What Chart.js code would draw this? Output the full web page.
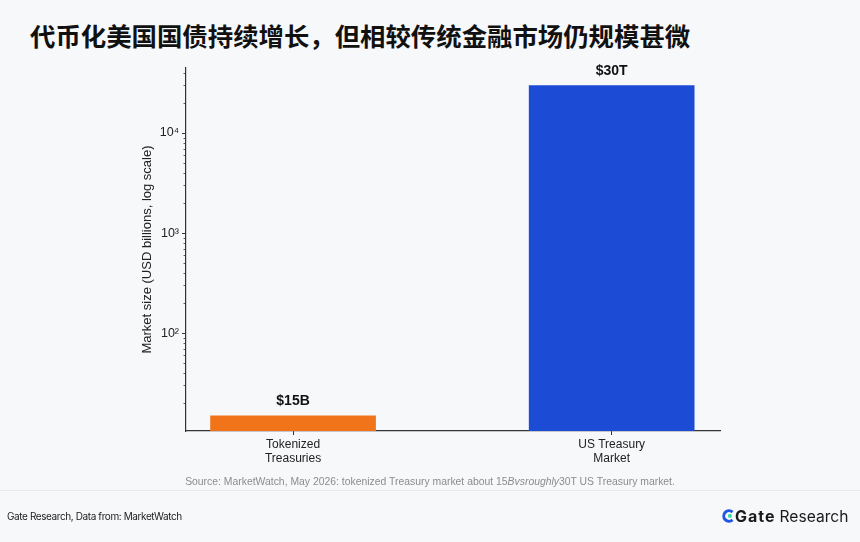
<!DOCTYPE html>
<html>
<head>
<meta charset="utf-8">
<script src="https://cdn.jsdelivr.net/npm/chart.js@4"></script>
<style>
  html, body { margin: 0; padding: 0; }
  body { width: 860px; height: 542px; background: #f7f8fa; position: relative; overflow: hidden; }
  #chart { position: absolute; left: 0; top: 0; }
  .title { position: absolute; left: 30px; top: 20px; font: 700 25.4px "Noto Sans CJK SC", sans-serif; line-height: 30px; color: #111; white-space: nowrap; }
  .source { position: absolute; left: 0; top: 476px; width: 860px; text-align: center; font: 10.4px "Liberation Sans", Arial, sans-serif; color: #8c8c8c; }
  .sep { position: absolute; left: 0; top: 490px; width: 860px; height: 1px; background: #e8eaee; }
  .foot { position: absolute; left: 7px; top: 510px; font: 10px Inter, sans-serif; color: #222; letter-spacing: -0.4px; }
  .logo { position: absolute; left: 722px; top: 506px; font: 15.6px Inter, sans-serif; color: #1a1a1a; display: flex; align-items: center; white-space: nowrap; }
  .logo b { font-weight: 700; font-size: 16px; margin-left: 1px; margin-right: 4px; letter-spacing: 1px; }
</style>
</head>
<body>
<div class="title">代币化美国国债持续增长，但相较传统金融市场仍规模甚微</div>
<canvas id="chart" width="860" height="542"></canvas>
<div class="source">Source: MarketWatch, May 2026: tokenized Treasury market about 15<i>Bvsroughly</i>30T US Treasury market.</div>
<div class="sep"></div>
<div class="foot">Gate Research, Data from: MarketWatch</div>
<div class="logo">
  <svg width="12" height="14" viewBox="0 0 12 14">
    <path d="M10.5 3.2 A5.2 5.2 0 1 0 10.5 10.8" fill="none" stroke="#2354e6" stroke-width="3"/>
    <rect x="6.2" y="5.2" width="3.4" height="3.4" fill="#27d99b"/>
  </svg>
  <b>Gate</b>Research
</div>
<script>
const categories = [['Tokenized', 'Treasuries'], ['US Treasury', 'Market']];
const marketSizes = [15, 30000]; // USD billions
const valueLabels = ['$15B', '$30T'];
const barColors = ['#f2741a', '#1c4bd6'];
const yMajorTicks = [100, 1000, 10000];
const yMinorTicks = [20, 30, 40, 50, 60, 70, 80, 90, 200, 300, 400, 500, 600, 700, 800, 900,
  2000, 3000, 4000, 5000, 6000, 7000, 8000, 9000, 20000, 30000, 40000];

const axisColor = '#333333';
const textColor = '#222222';
const supDigits = { 2: '\u00b2', 3: '\u00b3', 4: '\u2074' };

// bold value labels above each bar
const valueLabelPlugin = {
  id: 'valueLabels',
  afterDatasetsDraw(chart) {
    const { ctx } = chart;
    const meta = chart.getDatasetMeta(0);
    ctx.save();
    ctx.font = 'bold 14px "Liberation Sans", Arial, sans-serif';
    ctx.fillStyle = '#111';
    ctx.textAlign = 'center';
    ctx.textBaseline = 'bottom';
    meta.data.forEach((bar, i) => {
      ctx.fillText(valueLabels[i], bar.x, bar.y - 7);
    });
    ctx.restore();
  },
};

// short minor ticks on the log axis
const minorTickPlugin = {
  id: 'minorTicks',
  afterDraw(chart) {
    const { ctx } = chart;
    const y = chart.scales.y;
    const x0 = chart.chartArea.left;
    ctx.save();
    ctx.strokeStyle = axisColor;
    ctx.lineWidth = 0.8;
    yMinorTicks.forEach((v) => {
      if (v < y.min || v > y.max) return;
      const py = Math.round(y.getPixelForValue(v)) + 0.5;
      ctx.beginPath();
      ctx.moveTo(x0 - 2.5, py);
      ctx.lineTo(x0, py);
      ctx.stroke();
    });
    ctx.restore();
  },
};

new Chart(document.getElementById('chart'), {
  type: 'bar',
  data: {
    datasets: [
      {
        data: marketSizes.map((v, i) => ({ x: i, y: v })),
        backgroundColor: barColors,
        borderWidth: 0,
        barPercentage: 0.52,
        categoryPercentage: 1,
      },
    ],
  },
  plugins: [valueLabelPlugin, minorTickPlugin],
  options: {
    responsive: false,
    animation: false,
    layout: { padding: { left: 140, top: 68, right: 140, bottom: 71 } },
    plugins: {
      legend: { display: false },
      tooltip: { enabled: false },
    },
    scales: {
      x: {
        type: 'linear',
        offset: false,
        min: -0.336,
        max: 1.34,
        afterBuildTicks: (scale) => {
          scale.ticks = categories.map((c, i) => ({ value: i }));
        },
        afterFit: (scale) => { scale.height = 40; },
        ticks: {
          callback: (value) => categories[value],
          color: textColor,
          font: { family: '"Liberation Sans", Arial, sans-serif', size: 12, lineHeight: 1.15 },
          padding: 3,
          maxRotation: 0,
          autoSkip: false,
        },
        grid: { offset: false, drawOnChartArea: false, tickLength: 4, tickColor: axisColor, tickWidth: 1 },
        border: { color: axisColor, width: 1.2 },
      },
      y: {
        type: 'logarithmic',
        min: 10.5,
        max: 44700,
        afterBuildTicks: (scale) => {
          scale.ticks = yMajorTicks.map((v) => ({ value: v, major: true }));
        },
        afterFit: (scale) => { scale.width = 46; },
        ticks: {
          callback: (value) => '10' + supDigits[Math.round(Math.log10(value))],
          color: textColor,
          font: { family: '"Liberation Sans", Arial, sans-serif', size: 12.5 },
          padding: 3,
          autoSkip: false,
        },
        grid: { drawOnChartArea: false, tickLength: 4, tickColor: axisColor, tickWidth: 1 },
        border: { color: axisColor, width: 1.2 },
        title: {
          display: true,
          text: 'Market size (USD billions, log scale)',
          color: textColor,
          font: { family: '"Liberation Sans", Arial, sans-serif', size: 13 },
          padding: { top: 0, bottom: 0 },
        },
      },
    },
  },
});
</script>
</body>
</html>
